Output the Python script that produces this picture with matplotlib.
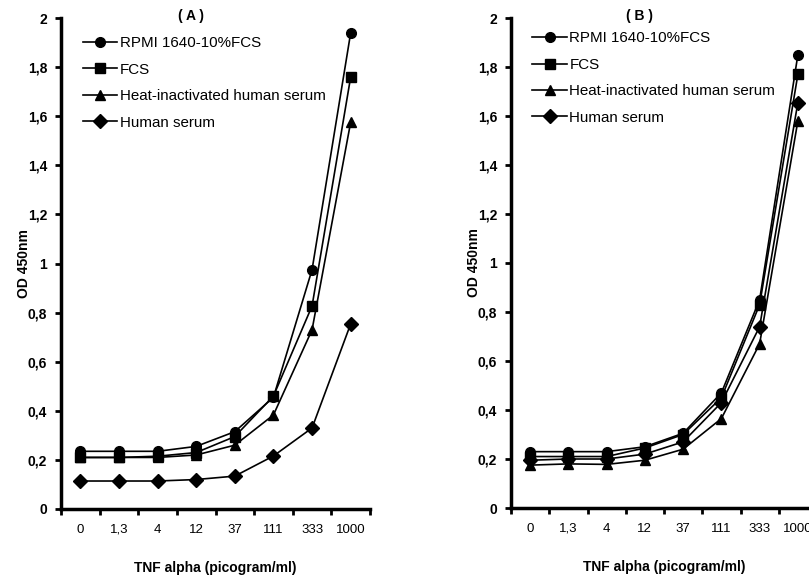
import matplotlib
matplotlib.use("Agg")
import matplotlib.pyplot as plt

plt.rcParams['font.family'] = ['Liberation Sans', 'DejaVu Sans']

doses = ['0', '1,3', '4', '12', '37', '111', '333', '1000']
series_names = ['RPMI 1640-10%FCS', 'FCS', 'Heat-inactivated human serum', 'Human serum']
markers = ['o', 's', '^', 'D']

# panel A
a_rpmi = [0.235, 0.235, 0.235, 0.255, 0.315, 0.455, 0.975, 1.94]
a_fcs = [0.21, 0.21, 0.215, 0.23, 0.295, 0.46, 0.827, 1.76]
a_heat = [0.21, 0.21, 0.21, 0.22, 0.26, 0.383, 0.73, 1.576]
a_human = [0.114, 0.114, 0.114, 0.12, 0.134, 0.216, 0.33, 0.754]

# panel B
b_rpmi = [0.23, 0.23, 0.23, 0.25, 0.305, 0.47, 0.85, 1.85]
b_fcs = [0.21, 0.21, 0.21, 0.245, 0.30, 0.45, 0.83, 1.77]
b_heat = [0.175, 0.18, 0.178, 0.195, 0.24, 0.365, 0.67, 1.58]
b_human = [0.195, 0.2, 0.2, 0.22, 0.27, 0.43, 0.74, 1.655]

yticks = [0, 0.2, 0.4, 0.6, 0.8, 1.0, 1.2, 1.4, 1.6, 1.8, 2.0]


def fmt(v):
    s = ('%.1f' % v).replace('.', ',')
    if s.endswith(',0'):
        s = s[:-2]
    return s


def draw_panel(ax, data, title, leg_x, leg_y):
    x = list(range(len(doses)))
    handles = []
    for vals, m, name in zip(data, markers, series_names):
        ms = 7 if m != 'D' else 7.5
        h, = ax.plot(x, vals, color='black', lw=1.2, marker=m, ms=ms,
                     clip_on=False, label=name)
        handles.append(h)
    ax.set_xlim(-0.5, 7.5)
    ax.set_ylim(0, 2)
    # ticks sit between the categories, labels under the categories
    ax.set_xticks([i - 0.5 for i in range(len(doses) + 1)])
    ax.set_xticklabels([])
    ax.set_xticks(x, minor=True)
    ax.set_xticklabels(doses, minor=True, fontsize=9.5, va='baseline')
    ax.tick_params(axis='x', which='minor', length=0, pad=17)
    ax.tick_params(axis='x', which='major', length=4, width=2, direction='out')
    ax.set_yticks(yticks)
    ax.set_yticklabels([fmt(v) for v in yticks], fontsize=10, fontweight='bold')
    ax.tick_params(axis='y', length=4, width=2, direction='out', pad=6)
    for s in ['top', 'right']:
        ax.spines[s].set_visible(False)
    for s in ['left', 'bottom']:
        ax.spines[s].set_linewidth(2.5)
    ax.set_ylabel('OD 450nm', fontsize=10, fontweight='bold', labelpad=-2)
    ax.set_xlabel('TNF alpha (picogram/ml)', fontsize=10, fontweight='bold', labelpad=18)
    ax.text(0.42, 1.004, title, transform=ax.transAxes, ha='center', va='center',
            fontsize=10, fontweight='bold')
    ax.legend(handles=handles, loc='upper left', bbox_to_anchor=(leg_x, leg_y),
              frameon=False, fontsize=10.9, handlelength=2.3, handletextpad=0.15,
              labelspacing=0.82, borderaxespad=0)


fig = plt.figure(figsize=(8.09, 5.78), dpi=100)
ax_a = fig.add_axes([61 / 809, 1 - 509 / 578, 309 / 809, 491 / 578])
ax_b = fig.add_axes([511 / 809, 1 - 508 / 578, 306 / 809, 490 / 578])

draw_panel(ax_a, [a_rpmi, a_fcs, a_heat, a_human], '( A )', 0.05, 0.975)
draw_panel(ax_b, [b_rpmi, b_fcs, b_heat, b_human], '( B )', 0.05, 0.985)

fig.savefig('out.png', dpi=100)
